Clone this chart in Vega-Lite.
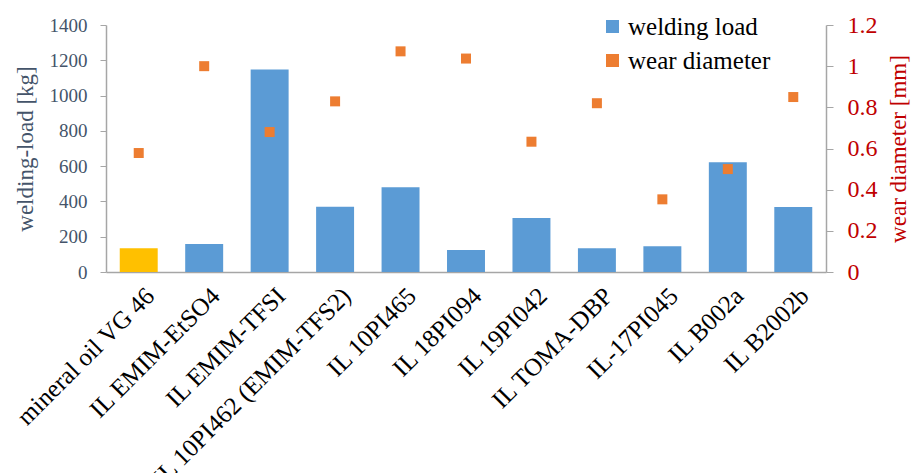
{
  "$schema": "https://vega.github.io/schema/vega-lite/v6.json",
  "width": 720,
  "height": 247,
  "autosize": {"type": "none"},
  "padding": {"left": 106, "top": 25, "right": 88, "bottom": 201},
  "config": {
    "view": {"stroke": null},
    "font": "Liberation Serif",
    "axis": {"grid": false, "domainColor": "#A6A6A6", "tickColor": "#A6A6A6", "domainWidth": 1.5, "titleFontWeight": "normal", "labelFont": "Liberation Serif", "titleFont": "Liberation Serif"},
    "legend": {"labelFont": "Liberation Serif", "titleFont": "Liberation Serif"}
  },
  "data": {
    "values": [
      {"name": "mineral oil VG 46", "load": 134, "wear": 0.578},
      {"name": "IL EMIM-EtSO4", "load": 159, "wear": 1.0},
      {"name": "IL EMIM-TFSI", "load": 1148, "wear": 0.68},
      {"name": "IL 10PI462 (EMIM-TFS2)", "load": 370, "wear": 0.829},
      {"name": "IL 10PI465", "load": 480, "wear": 1.072},
      {"name": "IL 18PI094", "load": 125, "wear": 1.037},
      {"name": "IL 19PI042", "load": 306, "wear": 0.633},
      {"name": "IL TOMA-DBP", "load": 134, "wear": 0.82},
      {"name": "IL-17PI045", "load": 146, "wear": 0.353},
      {"name": "IL B002a", "load": 622, "wear": 0.5},
      {"name": "IL B2002b", "load": 368, "wear": 0.85}
    ]
  },
  "encoding": {
    "x": {
      "field": "name",
      "type": "nominal",
      "sort": null,
      "scale": {"paddingInner": 0.42, "paddingOuter": 0.21},
      "axis": {"title": null, "labelAngle": -45, "labelFontSize": 25, "labelColor": "#000000", "ticks": false, "labelPadding": 11, "labelOffset": 3, "labelLimit": 400}
    }
  },
  "layer": [
    {
      "mark": {"type": "bar"},
      "encoding": {
        "y": {
          "field": "load",
          "type": "quantitative",
          "scale": {"domain": [0, 1400], "nice": false},
          "axis": {
            "title": "welding-load [kg]",
            "values": [0, 200, 400, 600, 800, 1000, 1200, 1400],
            "format": "d",
            "labelFontSize": 19,
            "labelColor": "#44546A",
            "titleColor": "#44546A",
            "titleFontSize": 23,
            "tickSize": 6,
            "labelPadding": 13,
            "titlePadding": 12
          }
        },
        "color": {
          "datum": "welding load",
          "condition": {"test": "datum.name === 'mineral oil VG 46'", "value": "#FFC000"},
          "scale": {"domain": ["welding load", "wear diameter"], "range": ["#5B9BD5", "#ED7D31"]},
          "legend": {
            "title": null,
            "orient": "none",
            "legendX": 494,
            "legendY": -11,
            "labelFontSize": 25,
            "labelColor": "#000000",
            "symbolType": "square",
            "symbolSize": 170,
            "rowPadding": 8,
            "labelOffset": 3
          }
        }
      }
    },
    {
      "mark": {"type": "point", "shape": "square", "filled": true, "size": 100, "opacity": 1},
      "encoding": {
        "y": {
          "field": "wear",
          "type": "quantitative",
          "scale": {"domain": [0, 1.2], "nice": false},
          "axis": {
            "orient": "right",
            "title": "wear diameter [mm]",
            "values": [0, 0.2, 0.4, 0.6, 0.8, 1, 1.2],
            "labelExpr": "'' + datum.value",
            "labelFontSize": 24,
            "labelColor": "#C00000",
            "titleColor": "#C00000",
            "titleFontSize": 23,
            "titleAngle": 270,
            "titleBaseline": "top",
            "tickSize": 7,
            "labelPadding": 14,
            "titlePadding": 10
          }
        },
        "color": {"datum": "wear diameter"}
      }
    }
  ],
  "resolve": {"scale": {"y": "independent"}}
}
